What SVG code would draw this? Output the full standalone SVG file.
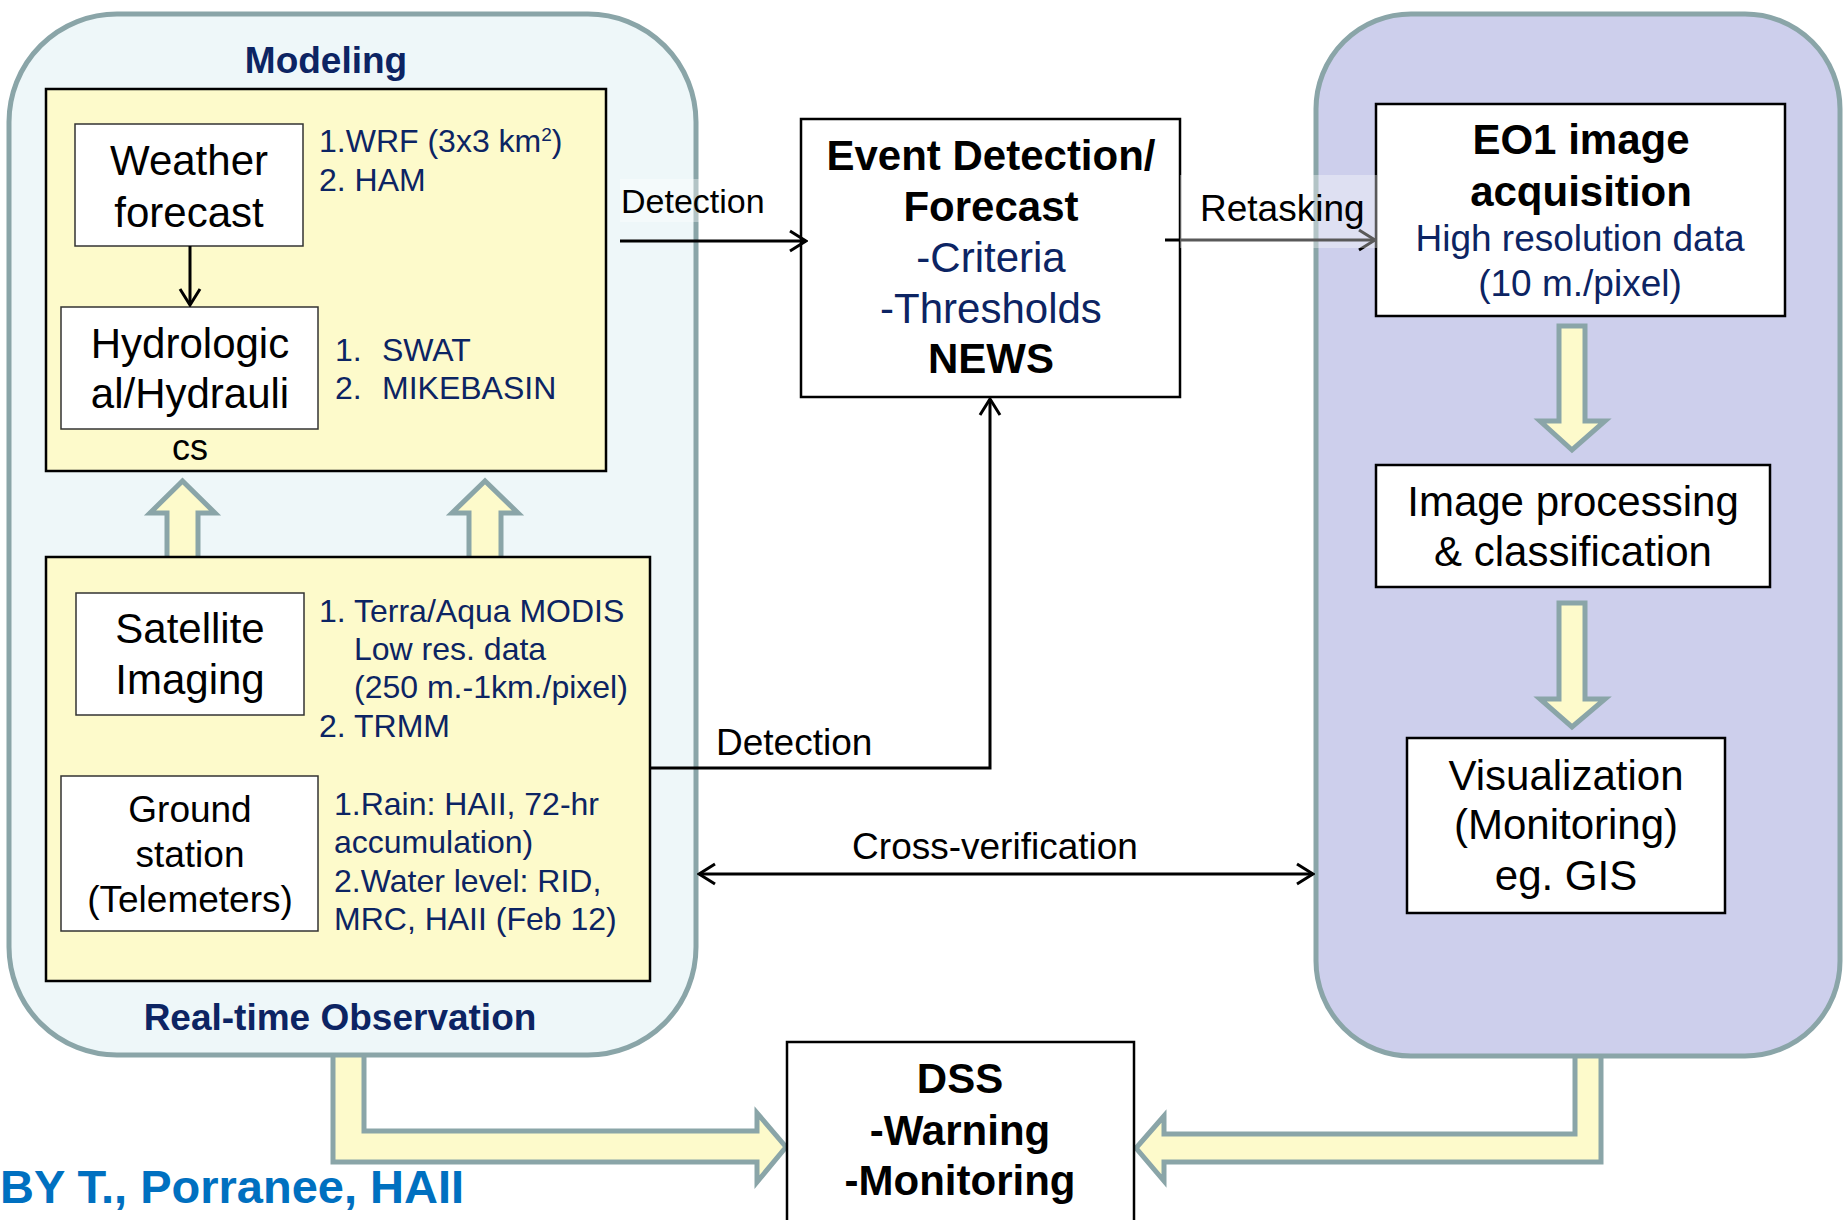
<svg xmlns="http://www.w3.org/2000/svg" width="1844" height="1220" viewBox="0 0 1844 1220">
<defs>
<style>
text{font-family:"Liberation Sans",Arial,sans-serif}
.c{text-anchor:middle}
.b{font-weight:bold}
.nv{fill:#0C2463}
.k{fill:#000}
.wbox{fill:#fff;stroke:#000;stroke-width:2.5}
.sbox{fill:#fff;stroke:#333;stroke-width:1.5}
.ybox{fill:#FDFACB;stroke:#000;stroke-width:2.5}
.blk{fill:#FDFACB;stroke:#8AA5A8;stroke-width:5}
.ln{stroke:#000;stroke-width:3;fill:none}
.lbg{fill:#fff;fill-opacity:0.35}
.f42{font-size:42px}
.f37{font-size:37px}
.f32{font-size:32px}
</style>
<marker id="chev" viewBox="0 0 20 24" refX="18" refY="12" markerWidth="20" markerHeight="24" markerUnits="userSpaceOnUse" orient="auto-start-reverse">
<path d="M2,2 L18,12 L2,22" fill="none" stroke="#000" stroke-width="3"/>
</marker>
</defs>
<rect width="1844" height="1220" fill="#fff"/>

<g id="flow-obs-dss">
<path class="blk" d="M333 1054 L333 1162 L757 1162 L757 1182 L786 1147 L757 1113 L757 1131 L364 1131 L364 1054"/>
</g>
<g id="flow-right-dss">
<path class="blk" d="M1601 1054 L1601 1162 L1164 1162 L1164 1181 L1136 1148 L1164 1116 L1164 1134 L1575 1134 L1575 1054"/>
</g>

<g id="left-container">
<rect x="9" y="14" width="687" height="1041" rx="108" fill="#EEF7F9" stroke="#8AA5A8" stroke-width="5"/>
<text class="b nv c" x="326" y="73" font-size="37">Modeling</text>
<text class="b nv c" x="340" y="1030" font-size="37">Real-time Observation</text>
</g>

<g id="right-container">
<rect x="1316" y="14" width="524" height="1042" rx="95" fill="#CDCFEC" stroke="#8AA5A8" stroke-width="5"/>
</g>

<g id="up-arrows">
<path class="blk" d="M167 557 L167 513 L150 513 L182.5 481 L215 513 L198 513 L198 557"/>
<path class="blk" d="M469 557 L469 513 L452 513 L485 481 L518 513 L501 513 L501 557"/>
</g>

<g id="modeling">
<rect class="ybox" x="46" y="89" width="560" height="382"/>
<text class="nv f32" x="319" y="152">1.WRF (3x3 km<tspan font-size="19" dy="-11">2</tspan><tspan dy="11">)</tspan></text>
<text class="nv f32" x="319" y="191">2. HAM</text>
<text class="nv f32" x="335" y="361">1.</text>
<text class="nv f32" x="382" y="361">SWAT</text>
<text class="nv f32" x="335" y="399">2.</text>
<text class="nv f32" x="382" y="399">MIKEBASIN</text>
</g>

<g id="weather-forecast">
<rect class="sbox" x="75" y="124" width="228" height="122"/>
<text class="k c f42" x="189" y="175">Weather</text>
<text class="k c f42" x="189" y="227">forecast</text>
</g>

<g id="hydrologic">
<rect class="sbox" x="61" y="307" width="257" height="122"/>
<text class="k c f42" x="190" y="358">Hydrologic</text>
<text class="k c f42" x="190" y="408">al/Hydrauli</text>
<text class="k c" x="190" y="460" font-size="36">cs</text>
</g>

<g id="observation">
<rect class="ybox" x="46" y="557" width="604" height="424"/>
<text class="nv f32" x="319" y="622">1. Terra/Aqua MODIS</text>
<text class="nv f32" x="354" y="660">Low res. data</text>
<text class="nv f32" x="354" y="698">(250 m.-1km./pixel)</text>
<text class="nv f32" x="319" y="737">2. TRMM</text>
<text class="nv f32" x="334" y="815">1.Rain: HAII, 72-hr</text>
<text class="nv f32" x="334" y="853">accumulation)</text>
<text class="nv f32" x="334" y="892">2.Water level: RID,</text>
<text class="nv f32" x="334" y="930">MRC, HAII (Feb 12)</text>
</g>

<g id="satellite-imaging">
<rect class="sbox" x="76" y="593" width="228" height="122"/>
<text class="k c f42" x="190" y="643">Satellite</text>
<text class="k c f42" x="190" y="694">Imaging</text>
</g>

<g id="ground-station">
<rect class="sbox" x="61" y="776" width="257" height="155"/>
<text class="k c f37" x="190" y="822">Ground</text>
<text class="k c f37" x="190" y="867">station</text>
<text class="k c f37" x="190" y="912">(Telemeters)</text>
</g>

<g id="event-detection">
<rect class="wbox" x="801" y="119" width="379" height="278"/>
<text class="b k c f42" x="991" y="170">Event Detection/</text>
<text class="b k c f42" x="991" y="221">Forecast</text>
<text class="nv c f42" x="991" y="272">-Criteria</text>
<text class="nv c f42" x="991" y="323">-Thresholds</text>
<text class="b k c f42" x="991" y="373">NEWS</text>
</g>

<g id="eo1">
<rect class="wbox" x="1376" y="104" width="409" height="212"/>
<text class="b k c f42" x="1581" y="154">EO1  image</text>
<text class="b k c f42" x="1581" y="206">acquisition</text>
<text class="nv c f37" x="1580" y="251">High resolution data</text>
<text class="nv c f37" x="1580" y="296">(10 m./pixel)</text>
</g>

<g id="down-arrows">
<path class="blk" d="M1559 326 L1585 326 L1585 421 L1605 421 L1572 450 L1540 421 L1559 421 Z"/>
<path class="blk" d="M1559 603 L1585 603 L1585 699 L1605 699 L1572 727 L1540 699 L1559 699 Z"/>
</g>

<g id="image-processing">
<rect class="wbox" x="1376" y="465" width="394" height="122"/>
<text class="k c f42" x="1573" y="516">Image processing</text>
<text class="k c f42" x="1573" y="566">&amp; classification</text>
</g>

<g id="visualization">
<rect class="wbox" x="1407" y="738" width="318" height="175"/>
<text class="k c f42" x="1566" y="790">Visualization</text>
<text class="k c f42" x="1566" y="839">(Monitoring)</text>
<text class="k c f42" x="1566" y="890">eg. GIS</text>
</g>

<g id="dss">
<rect class="wbox" x="787" y="1042" width="347" height="200"/>
<text class="b k c f42" x="960" y="1093">DSS</text>
<text class="b k c f42" x="960" y="1145">-Warning</text>
<text class="b k c f42" x="960" y="1195">-Monitoring</text>
</g>

<g id="connectors">
<line class="ln" x1="190" y1="246" x2="190" y2="305" marker-end="url(#chev)"/>
<line class="ln" x1="620" y1="241" x2="806" y2="241" marker-end="url(#chev)"/>
<rect class="lbg" x="620" y="179" width="145" height="43"/>
<text class="k" x="621" y="213" font-size="34">Detection</text>
<line class="ln" x1="1165" y1="240" x2="1375" y2="240" marker-end="url(#chev)"/>
<rect class="lbg" x="1180" y="175" width="197" height="73"/>
<text class="k f37" x="1200" y="221">Retasking</text>
<polyline class="ln" points="650,768 990,768 990,399" marker-end="url(#chev)"/>
<text class="k f37" x="716" y="755">Detection</text>
<line class="ln" x1="699" y1="874" x2="1313" y2="874" marker-start="url(#chev)" marker-end="url(#chev)"/>
<text class="k c f37" x="995" y="859">Cross-verification</text>
</g>

<g id="credit">
<text class="b" x="0" y="1203" font-size="47" fill="#0070C0">BY T., Porranee, HAII</text>
</g>
</svg>
